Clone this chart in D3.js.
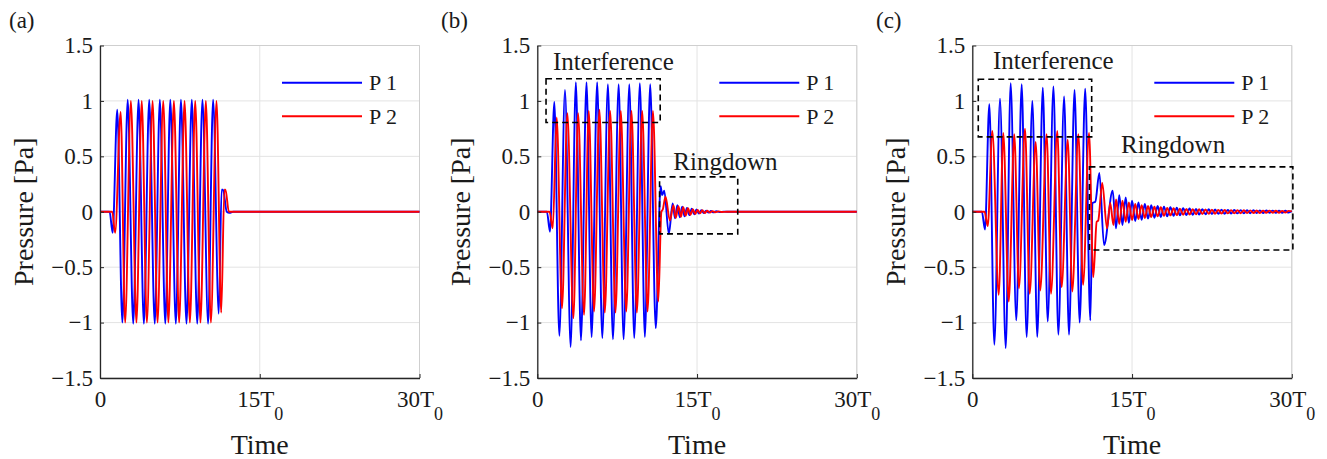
<!DOCTYPE html>
<html>
<head>
<meta charset="utf-8">
<script src="https://cdn.jsdelivr.net/npm/d3@7"></script>
<style>
  body { margin: 0; background: #fff; }
  svg { display: block; }
</style>
</head>
<body>
<div id="chart"></div>
<script>
// tone burst pressure at two probes, three cases (a) (b) (c)
var svgWidth = 1327;
var svgHeight = 459;

// axis values
var timeTicks = [0, 15, 30];
var timeTickLabels = [["0", ""], ["15T", "0"], ["30T", "0"]];
var pressureTicks = [-1.5, -1, -0.5, 0, 0.5, 1, 1.5];
var panelLabels = ["(a)", "(b)", "(c)"];
var seriesNames = ["P 1", "P 2"];

// [time in T0, pressure in Pa] - extrema
var p1a = [[0,0],[0.9,0],[1.19,-0.19],[1.62,0.92],[2.1,-1.0],[2.6,1.01],[3.12,-1.01],[3.62,1.01],[4.12,-1.01],[4.62,1.01],
  [5.14,-1.01],[5.62,1.01],[6.13,-1.01],[6.6,1.01],[7.12,-1.01],[7.6,1.01],[8.12,-1.01],[8.62,1.01],[9.13,-1.01],[9.62,1.01],
  [10.15,-1.01],[10.62,1.01],[11.15,-0.92],[11.42,0.2],[11.55,0.2],[11.9,0.0],[12.15,-0.01],[12.5,0],[30,0]];
var p2a = [[0,0],[1.15,0],[1.42,-0.19],[1.94,0.9],[2.36,-1.0],[2.9,1.0],[3.42,-1.0],[3.92,1.0],[4.4,-1.0],[4.94,1.0],
  [5.4,-1.0],[5.94,1.0],[6.42,-1.0],[6.94,1.0],[7.43,-1.0],[7.94,1.0],[8.44,-1.0],[8.94,1.0],[9.43,-1.0],[9.94,1.0],
  [10.41,-1.0],[10.94,1.0],[11.38,-0.91],[11.68,0.2],[11.78,0.2],[12.1,0.0],[30,0]];

var p1b = [[0,0],[0.9,0],[1.19,-0.18],[1.6,0.99],[2.07,-1.12],[2.6,1.1],[3.13,-1.22],[3.62,1.17],[4.1,-1.16],[4.62,1.17],
  [5.1,-1.13],[5.62,1.17],[6.1,-1.14],[6.63,1.15],[7.1,-1.15],[7.64,1.15],[8.1,-1.15],[8.64,1.15],[9.1,-1.14],[9.63,1.16],
  [10.1,-1.13],[10.6,1.15],[11.12,-1.05],[11.58,0.23],[11.72,0.15],[11.92,0.19],[12.35,-0.2],[12.71,0.075],[12.93,-0.06],
  [13.15,0.06],[13.38,-0.05],[13.6,0.045],[13.83,-0.04],[14.05,0.035],[14.28,-0.03],[14.5,0.027],[14.73,-0.023],[14.95,0.02],
  [15.18,-0.017],[15.4,0.015],[15.63,-0.012],[15.85,0.01],[16.08,-0.008],[16.3,0.007],[16.55,-0.005],[16.8,0.004],
  [17.1,-0.003],[17.5,0.001],[18.2,0],[30,0]];
var p2b = [[0,0],[1.15,0],[1.45,-0.15],[1.82,0.85],[2.32,-0.87],[2.82,0.89],[3.39,-0.96],[3.83,0.89],[4.39,-0.93],[4.83,0.91],
  [5.33,-0.9],[5.83,0.92],[6.34,-0.91],[6.84,0.91],[7.34,-0.91],[7.84,0.91],[8.35,-0.9],[8.84,0.91],[9.35,-0.91],[9.85,0.91],
  [10.35,-0.9],[10.86,0.91],[11.36,-0.81],[11.65,0.0],[11.78,0.02],[12.04,0.135],[12.45,-0.08],[12.78,0.06],[13.0,-0.055],
  [13.25,0.05],[13.48,-0.045],[13.7,0.04],[13.93,-0.035],[14.15,0.031],[14.38,-0.027],[14.6,0.023],[14.83,-0.02],[15.05,0.017],
  [15.28,-0.015],[15.5,0.013],[15.73,-0.011],[15.95,0.009],[16.2,-0.007],[16.45,0.006],[16.7,-0.004],[17.0,0.003],
  [17.3,-0.002],[17.8,0],[30,0]];

var p1c = [[0,0],[0.9,0],[1.19,-0.16],[1.6,0.97],[2.07,-1.2],[2.6,1.02],[3.14,-1.23],[3.6,1.16],[4.13,-0.98],[4.64,1.15],
  [5.1,-1.13],[5.64,1.0],[6.1,-1.13],[6.62,1.12],[7.08,-0.99],[7.62,1.13],[8.08,-1.11],[8.62,1.04],[9.08,-1.11],[9.6,1.1],
  [10.08,-1.0],[10.6,1.11],[11.08,-0.98],[11.3,0.08],[11.55,0.09],[11.93,0.35],[12.37,-0.3],[13.18,0.19],[13.49,-0.15],
  [13.8,0.15],[14.1,-0.12],[14.4,0.13],[14.7,-0.1],[15.0,0.1],[15.3,-0.085],[15.6,0.085],[15.9,-0.072],[16.2,0.07],
  [16.5,-0.062],[16.8,0.06],[17.1,-0.054],[17.4,0.052],[17.7,-0.047],[18.0,0.046],[18.3,-0.042],[18.6,0.041],[18.9,-0.037],
  [19.2,0.036],[19.5,-0.033],[19.8,0.032],[20.1,-0.03],[20.4,0.029],[20.7,-0.027],[21.0,0.026],[21.3,-0.025],[21.6,0.024],
  [21.9,-0.023],[22.2,0.022],[22.5,-0.021],[22.8,0.02],[23.1,-0.019],[23.4,0.019],[23.7,-0.018],[24.0,0.017],[24.3,-0.016],
  [24.6,0.016],[24.9,-0.015],[25.2,0.015],[25.5,-0.014],[25.8,0.014],[26.1,-0.013],[26.4,0.013],[26.7,-0.012],[27.0,0.012],
  [27.3,-0.011],[27.6,0.011],[27.9,-0.01],[28.2,0.01],[28.5,-0.01],[28.8,0.009],[29.1,-0.009],[29.4,0.009],[29.7,-0.008],[30,0.006]];
var p2c = [[0,0],[1.15,0],[1.45,-0.13],[1.88,0.73],[2.48,-0.75],[2.91,0.71],[3.42,-0.81],[3.94,0.7],[4.38,-0.69],[4.95,0.75],
  [5.39,-0.74],[5.95,0.63],[6.38,-0.71],[6.98,0.7],[7.39,-0.74],[7.98,0.73],[8.39,-0.68],[8.96,0.65],[9.39,-0.72],[9.96,0.7],
  [10.4,-0.66],[10.96,0.71],[11.36,-0.59],[11.68,-0.09],[11.82,-0.08],[12.2,0.26],[12.65,-0.15],[12.95,0.08],[13.25,-0.12],
  [13.5,0.11],[13.8,-0.11],[14.1,0.1],[14.4,-0.09],[14.7,0.085],[15.0,-0.075],[15.3,0.07],[15.6,-0.065],[15.9,0.06],
  [16.2,-0.056],[16.5,0.052],[16.8,-0.048],[17.1,0.045],[17.4,-0.042],[17.7,0.04],[18.0,-0.037],[18.3,0.035],[18.6,-0.033],
  [18.9,0.031],[19.2,-0.03],[19.5,0.028],[19.8,-0.027],[20.1,0.026],[20.4,-0.025],[20.7,0.024],[21.0,-0.023],[21.3,0.022],
  [21.6,-0.021],[21.9,0.02],[22.2,-0.019],[22.5,0.019],[22.8,-0.018],[23.1,0.017],[23.4,-0.017],[23.7,0.016],[24.0,-0.015],
  [24.3,0.015],[24.6,-0.014],[24.9,0.014],[25.2,-0.013],[25.5,0.013],[25.8,-0.012],[26.1,0.012],[26.4,-0.011],[26.7,0.011],
  [27.0,-0.011],[27.3,0.01],[27.6,-0.01],[27.9,0.01],[28.2,-0.009],[28.5,0.009],[28.8,-0.009],[29.1,0.008],[29.4,-0.008],
  [29.7,0.008],[30,0.004]];

// dashed boxes [t0, t1, p0, p1] and their label anchors [t, p]
var interferenceBoxes = [null, [0.82, 11.54, 0.805, 1.2], [0.56, 11.21, 0.676, 1.195]];
var interferenceLabels = [null, [1.48, 1.277], [1.94, 1.292]];
var ringdownBoxes = [null, [11.48, 18.82, -0.2, 0.315], [11.0, 30.1, -0.345, 0.405]];
var ringdownLabels = [null, [12.77, 0.376], [13.96, 0.526]];

var panelSeries = [[p1a, p2a], [p1b, p2b], [p1c, p2c]];

// layout
var panelLeft = [100, 537.3, 972.3];
var panelLabelX = [9, 441, 876];
var plotWidth = 319.5;
var plotTop = 45.5;
var plotBottom = 378;
var colors = ["#0000ff", "#ff0000"];
var font = "'Liberation Serif', 'Times New Roman', serif";

var svg = d3.select("#chart")
  .append("svg")
  .attr("width", svgWidth)
  .attr("height", svgHeight);

panelSeries.forEach(function(series, i) {
  var left = panelLeft[i];

  var xScale = d3.scaleLinear().domain([0, 30]).range([left, left + plotWidth]);
  var yScale = d3.scaleLinear().domain([-1.5, 1.5]).range([plotBottom, plotTop]);

  var g = svg.append("g");

  // grid
  g.selectAll(".hgrid")
    .data(pressureTicks)
    .enter().append("line")
    .attr("x1", xScale(0)).attr("x2", xScale(30))
    .attr("y1", d => yScale(d)).attr("y2", d => yScale(d))
    .attr("stroke", "#e3e3e3").attr("stroke-width", 1);
  g.selectAll(".vgrid")
    .data(timeTicks)
    .enter().append("line")
    .attr("x1", d => xScale(d)).attr("x2", d => xScale(d))
    .attr("y1", yScale(-1.5)).attr("y2", yScale(1.5))
    .attr("stroke", "#e3e3e3").attr("stroke-width", 1);
  // top and right edges of the box
  g.append("path")
    .attr("d", "M" + xScale(0) + "," + yScale(1.5) + "H" + xScale(30) + "V" + yScale(-1.5))
    .attr("fill", "none").attr("stroke", "#cfcfcf").attr("stroke-width", 1);

  // lines
  var createLine = d3.line()
    .x(d => xScale(d[0]))
    .y(d => yScale(d[1]))
    .curve(d3.curveMonotoneX);

  series.forEach(function(data, k) {
    g.append("path")
      .attr("d", createLine(data))
      .attr("fill", "none")
      .attr("stroke", colors[k])
      .attr("stroke-width", 1.9)
      .attr("stroke-linejoin", "round");
  });

  // y axis
  var yAxis = g.append("g")
    .attr("transform", "translate(" + xScale(0) + ",0)")
    .call(d3.axisLeft(yScale)
      .tickValues(pressureTicks)
      .tickSizeInner(-4)
      .tickSizeOuter(0)
      .tickPadding(7)
      .tickFormat(d => d < 0 ? "\u2212" + Math.abs(d) : String(d)));
  yAxis.attr("font-family", font).attr("font-size", 23);
  yAxis.select(".domain").attr("stroke", "#262626").attr("stroke-width", 1.3);
  yAxis.selectAll(".tick line").attr("stroke", "#262626");
  yAxis.selectAll(".tick text").attr("fill", "#1a1a1a");

  // x axis
  var xAxis = g.append("g")
    .attr("transform", "translate(0," + yScale(-1.5) + ")")
    .call(d3.axisBottom(xScale)
      .tickValues(timeTicks)
      .tickSizeInner(-4)
      .tickSizeOuter(0)
      .tickFormat(""));
  xAxis.attr("font-family", font).attr("font-size", 23);
  xAxis.select(".domain").attr("stroke", "#262626").attr("stroke-width", 1.3);
  xAxis.selectAll(".tick line").attr("stroke", "#262626");
  xAxis.selectAll(".tick text").each(function(d, j) {
    var t = d3.select(this)
      .attr("y", 29).attr("dy", 0)
      .attr("fill", "#1a1a1a")
      .text(timeTickLabels[j][0]);
    if (timeTickLabels[j][1]) {
      t.append("tspan")
        .attr("dy", 13)
        .attr("font-size", 18)
        .text(timeTickLabels[j][1]);
    }
  });

  // axis titles
  g.append("text")
    .attr("x", (xScale(0) + xScale(30)) / 2)
    .attr("y", 454)
    .attr("text-anchor", "middle")
    .attr("font-family", font).attr("font-size", 28)
    .attr("fill", "#1a1a1a")
    .text("Time");
  g.append("text")
    .attr("transform", "translate(" + (left - 67) + "," + yScale(0) + ") rotate(-90)")
    .attr("text-anchor", "middle")
    .attr("font-family", font).attr("font-size", 28)
    .attr("fill", "#1a1a1a")
    .text("Pressure [Pa]");

  // panel label
  svg.append("text")
    .attr("x", panelLabelX[i]).attr("y", 28)
    .attr("font-family", font).attr("font-size", 23)
    .attr("fill", "#1a1a1a")
    .text(panelLabels[i]);

  // legend
  seriesNames.forEach(function(name, k) {
    var ly = 82.7 + k * 33.5;
    g.append("line")
      .attr("x1", left + 182).attr("x2", left + 262)
      .attr("y1", ly).attr("y2", ly)
      .attr("stroke", colors[k]).attr("stroke-width", 1.9);
    g.append("text")
      .attr("x", left + 269).attr("y", ly + 7.5)
      .attr("font-family", font).attr("font-size", 22)
      .attr("fill", "#1a1a1a")
      .text(name);
  });

  // annotation boxes
  [[interferenceBoxes[i], interferenceLabels[i], "Interference"],
   [ringdownBoxes[i], ringdownLabels[i], "Ringdown"]].forEach(function(a) {
    var b = a[0];
    if (!b) return;
    g.append("rect")
      .attr("x", xScale(b[0])).attr("y", yScale(b[3]))
      .attr("width", xScale(b[1]) - xScale(b[0]))
      .attr("height", yScale(b[2]) - yScale(b[3]))
      .attr("fill", "none")
      .attr("stroke", "#000")
      .attr("stroke-width", 1.6)
      .attr("stroke-dasharray", "6,4");
    g.append("text")
      .attr("x", xScale(a[1][0])).attr("y", yScale(a[1][1]))
      .attr("font-family", font).attr("font-size", 25)
      .attr("fill", "#1a1a1a")
      .text(a[2]);
  });
});
</script>
</body>
</html>
